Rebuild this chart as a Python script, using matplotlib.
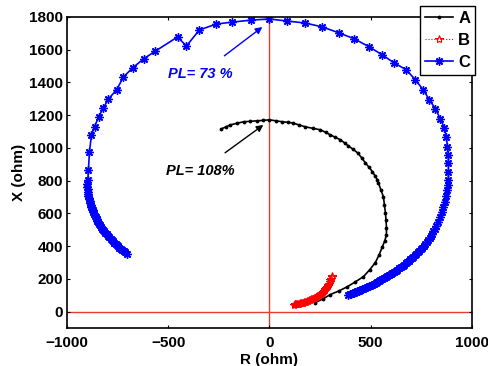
import matplotlib.pyplot as plt

plt.rcParams['font.family'] = ['Liberation Sans', 'DejaVu Sans']
plt.rcParams['font.weight'] = 'bold'

# curve C (blue)
c_r = [-706, -713, -720, -728, -735, -742, -748, -754, -760, -766, -772, -779, -785,
       -792, -798, -804, -810, -816, -822, -827, -832, -837, -842, -846, -850, -854,
       -858, -862, -866, -870, -873, -876, -879, -882, -885, -888, -890, -892, -894,
       -896, -897, -898, -899, -899, -897, -894, -889, -879,
       -864, -844, -820, -795, -755, -721, -676, -622, -563, -454, -410, -346, -262,
       -183, -89, 0, 89, 178, 262, 346, 420, 494, 558, 617, 677, 721, 760, 790, 820,
       844, 864, 874, 879, 884, 884, 884, 884, 881, 879, 874, 868, 859, 852, 844, 835,
       825, 818, 810, 804, 798, 791, 784, 777, 770, 763, 755, 748, 740, 733, 725, 718,
       711, 703, 695, 688, 680, 673, 665, 658, 650, 641, 632, 624, 615, 607, 598, 590,
       582, 574, 565, 557, 548, 540, 532, 524, 515, 507, 498, 490, 481, 473, 464, 456,
       448, 440, 432, 425, 418, 411, 404, 397, 390]
c_x = [354, 361, 368, 376, 383, 391, 398, 406, 413, 421, 428, 437, 445, 454, 462, 471,
       480, 489, 498, 507, 517, 526, 536, 546, 556, 566, 576, 586, 597, 607, 618, 629,
       640, 651, 662, 673, 685, 696, 708, 720, 732, 746, 760, 782, 805, 866, 976,
       1079, 1128, 1189, 1244, 1299, 1354,
       1433, 1488, 1543, 1591, 1677, 1622, 1720, 1756, 1768, 1780, 1787, 1774, 1762,
       1738, 1701, 1665, 1616, 1567, 1518, 1476, 1415, 1354, 1293, 1238, 1177, 1122,
       1067, 1006, 957, 908, 854, 805, 770, 740, 705, 672, 640, 610, 580, 550, 520, 505,
       490, 476, 462, 449, 436, 424, 412, 401, 391, 381, 372, 362, 353, 344, 335, 326,
       318, 310, 302, 294, 286, 278, 270, 263, 256, 249, 242, 235, 228, 221, 215, 209,
       203, 197, 191, 185, 180, 174, 169, 164, 159, 154, 149, 144, 140, 135, 131, 127,
       123, 119, 116, 113, 110, 107, 104]

# curve A (black)
a_r = [-237, -215, -193, -160, -128, -94, -59, -30, 0, 32, 64, 90, 114, 146, 178, 215,
       252, 277, 301, 326, 351, 371, 390, 413, 435, 455, 474, 492, 509, 521, 533, 538,
       550, 563, 568, 573, 576, 578, 578, 570, 558, 542, 523, 495, 464, 425, 385, 345,
       301, 265, 227]
a_x = [1116, 1128, 1140, 1150, 1159, 1162, 1165, 1168, 1171, 1165, 1159, 1156, 1152,
       1140, 1128, 1119, 1110, 1095, 1079, 1064, 1049, 1030, 1012, 991, 970, 940, 908,
       881, 854, 830, 805, 787, 745, 701, 652, 603, 557, 512, 470, 433, 396, 347, 299,
       255, 213, 182, 152, 127, 104, 78, 55]

# curve B (red)
b_r = [119, 124, 128, 133, 137, 142, 146, 151, 155, 160, 165, 170, 175, 180, 185, 190,
       196, 201, 207, 212, 218, 223, 229, 235, 240, 245, 250, 255, 259, 264, 268, 272,
       276, 280, 284, 288, 291, 295, 298, 301, 304, 307, 310]
b_x = [43, 44, 45, 46, 47, 48, 49, 50, 52, 53, 55, 57, 59, 61, 63, 65, 68, 71, 74, 77,
       81, 84, 88, 92, 96, 100, 105, 110, 115, 120, 125, 130, 136, 142, 148, 154, 160,
       171, 182, 191, 200, 210, 220]

fig = plt.figure(figsize=(4.89, 3.66), dpi=100)
ax = fig.add_axes([0.137, 0.104, 0.828, 0.850])

ax.axhline(0, color='#e0402a', lw=1.0, zorder=1)
ax.axvline(0, color='#e0402a', lw=1.0, zorder=1)

ax.plot(a_r, a_x, '-', color='k', marker='.', ms=3.5, lw=1.2, label='A')
ax.plot(b_r, b_x, ':', color='r', marker='*', ms=6, mfc='none', mew=0.8, lw=0.8,
        label='B')
ax.plot(c_r, c_x, '-', color='b', marker=(8, 2, 0), ms=6, mew=1.0, lw=1.2, label='C')

ax.annotate('PL= 73 %', xy=(-35, 1738), xytext=(-341, 1451), color='b',
            fontsize=10.5, fontweight='bold', fontstyle='italic',
            ha='center', va='center',
            arrowprops=dict(arrowstyle='-|>', color='b', lw=1.0, mutation_scale=10,
                            shrinkA=10, shrinkB=0))
ax.annotate('PL= 108%', xy=(-30, 1140), xytext=(-341, 860), color='k',
            fontsize=10.5, fontweight='bold', fontstyle='italic',
            ha='center', va='center',
            arrowprops=dict(arrowstyle='-|>', color='k', lw=1.0, mutation_scale=10,
                            shrinkA=10, shrinkB=0))

ax.set_xlim(-1000, 1000)
ax.set_ylim(-100, 1800)
ax.set_xticks([-1000, -500, 0, 500, 1000])
ax.set_yticks(range(0, 1801, 200))
ax.tick_params(direction='in', top=True, right=True, labelsize=11, length=2, width=0.8)
ax.tick_params(axis='x', pad=6)
ax.tick_params(axis='y', pad=3)
for lab in ax.get_xticklabels() + ax.get_yticklabels():
    lab.set_fontweight('bold')
for s in ax.spines.values():
    s.set_linewidth(1.2)

ax.set_xlabel('R (ohm)', fontsize=11, fontweight='bold', labelpad=2)
ax.set_ylabel('X (ohm)', fontsize=11, fontweight='bold', labelpad=2)

leg = ax.legend(loc='upper right', bbox_to_anchor=(1.008, 1.036), fontsize=12,
                fancybox=False, edgecolor='k', framealpha=1, borderaxespad=0,
                handlelength=1.7, labelspacing=0.42, borderpad=0.3, handletextpad=0.3)
leg.get_frame().set_linewidth(1.0)
for t in leg.get_texts():
    t.set_fontweight('bold')

fig.savefig('out.png', dpi=100)
